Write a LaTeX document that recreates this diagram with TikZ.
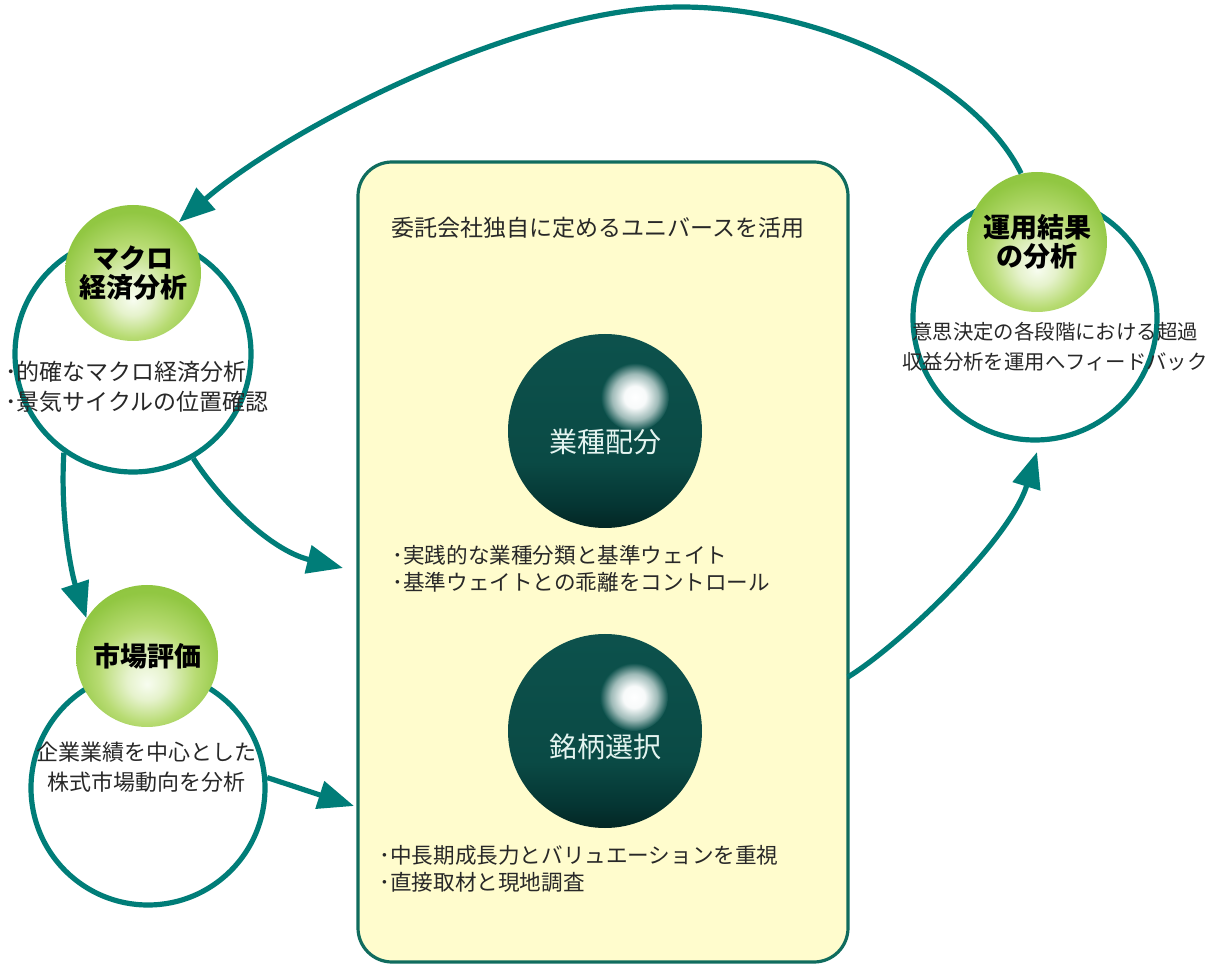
\documentclass[tikz,border=0pt]{standalone}
\usepackage{fontspec}
\setmainfont{Noto Sans CJK JP}
\usetikzlibrary{arrows.meta}
\definecolor{teal1}{RGB}{0,125,120}
\definecolor{boxline}{RGB}{16,108,94}
\definecolor{boxfill}{RGB}{255,252,205}
\definecolor{txt}{RGB}{40,40,40}
\definecolor{spheretxt}{RGB}{228,244,240}
\pgfdeclareradialshading{greenball}{\pgfpoint{0bp}{-10bp}}{rgb(0bp)=(0.97,0.99,0.94); rgb(7bp)=(0.90,0.95,0.80); rgb(17bp)=(0.72,0.86,0.45); rgb(27bp)=(0.57,0.78,0.26); rgb(50bp)=(0.52,0.75,0.20)}
\pgfdeclareverticalshading{darkball}{100bp}{rgb(0bp)=(0.01,0.15,0.14); rgb(25bp)=(0.01,0.15,0.14); rgb(31bp)=(0.02,0.21,0.20); rgb(42bp)=(0.04,0.29,0.27); rgb(75bp)=(0.05,0.32,0.30); rgb(100bp)=(0.05,0.32,0.30)}
\pgfdeclareradialshading{hilite}{\pgfpointorigin}{rgb(0bp)=(1,1,1); rgb(8bp)=(0.97,0.98,0.98); rgb(17bp)=(0.62,0.73,0.72); rgb(25bp)=(0.05,0.32,0.30); rgb(50bp)=(0.05,0.32,0.30)}
\begin{document}
\begin{tikzpicture}[x=0.5pt,y=-0.5pt,
  ringc/.style={circle, draw=teal1, line width=2.6pt, inner sep=0pt},
  gball/.style={circle, shade, shading=greenball, inner sep=0pt, align=center, text=black,
    font=\bfseries\fontsize{13.5}{14.5}\selectfont},
  dball/.style={circle, shade, shading=darkball, inner sep=0pt, minimum size=97pt},
  hl/.style={circle, shade, shading=hilite, inner sep=0pt, minimum size=34pt},
  flow/.style={draw=teal1, line width=2.6pt, -{Triangle[length=18pt,width=14pt]}},
  body/.style={inner sep=0pt, text=txt, align=center, font=\fontsize{11}{15}\selectfont},
  boxtxt/.style={inner sep=0pt, text=txt, anchor=west, align=left, font=\fontsize{10.8}{13.5}\selectfont},
  stxt/.style={inner sep=0pt, text=spheretxt, font=\fontsize{14}{16}\selectfont},
]
\useasboundingbox (0,0) rectangle (1207,968);
\fill[white] (0,0) rectangle (1207,968);

% central box
\node[draw=boxline, fill=boxfill, line width=1.6pt, rounded corners=17pt,
  minimum width=245pt, minimum height=400pt, inner sep=0pt] (box) at (603,562) {};

% rings
\node[ringc, minimum size=118pt] (macring) at (133,354) {};
\node[ringc, minimum size=117pt] (mktring) at (148,788) {};
\node[ringc, minimum size=122pt] (resring) at (1035,318) {};

% green balls
\node[gball, minimum size=68pt] (macgreen) at (133,273) {マクロ\\経済分析};
\node[gball, minimum size=71pt] (mktgreen) at (147,656) {市場評価};
\node[gball, minimum size=70pt] (resgreen) at (1037,242) {運用結果\\の分析};

% arrow end points
\coordinate (apex) at (681,7);
\coordinate (in3) at (343,568);
\coordinate (in4) at (354,806);
\coordinate (out5) at (848,677);
\coordinate (in5) at (1037,452);

% arrows
\draw[flow] (resgreen.103) .. controls (975,80) and (820,7) .. (apex)
   .. controls (520,7) and (285,130) .. (macgreen.48);
\draw[flow] (macring.-125) .. controls (60,520) and (72,575) .. (mktgreen.148);
\draw[flow] (macring.-60) .. controls (220,500) and (270,550) .. (in3);
\draw[flow] (mktring.5) .. controls (290,785) and (320,795) .. (in4);
\draw[flow] (out5) .. controls (900,645) and (1010,540) .. (in5);

% texts
\node[inner sep=0pt, text=txt, font=\fontsize{11.5}{15}\selectfont] (head) at (598,228) {委託会社独自に定めるユニバースを活用};
\node[inner sep=0pt, text=txt, anchor=west, align=left, font=\fontsize{11.5}{15}\selectfont] (mactxt) at (5,387) {･的確なマクロ経済分析\\･景気サイクルの位置確認};
\node[body] (mkttxt) at (147,767) {企業業績を中心とした\\株式市場動向を分析};
\node[body, font=\fontsize{10.2}{15}\selectfont] (restxt) at (1055,347) {意思決定の各段階における超過\\収益分析を運用へフィードバック};
\node[boxtxt] (b1) at (392,569) {･実践的な業種分類と基準ウェイト\\･基準ウェイトとの乖離をコントロール};
\node[boxtxt] (b2) at (379,869) {･中長期成長力とバリュエーションを重視\\･直接取材と現地調査};

% dark spheres
\node[dball] (sph1) at (605,431) {};
\node[hl] (hl1) at (635,397) {};
\node[stxt] (s1) at (605,442) {業種配分};
\node[dball] (sph2) at (605,731) {};
\node[hl] (hl2) at (634,697) {};
\node[stxt] (s2) at (605,747) {銘柄選択};
\end{tikzpicture}
\end{document}
